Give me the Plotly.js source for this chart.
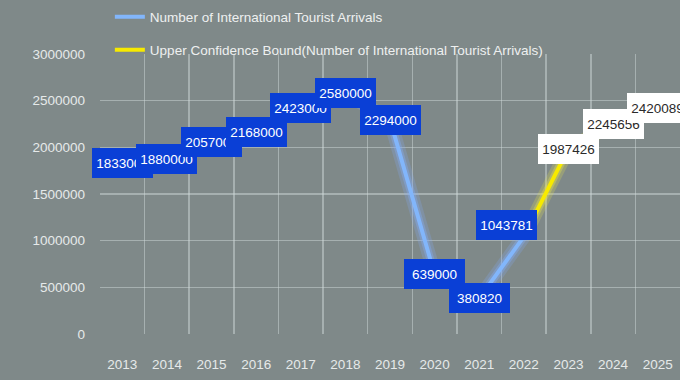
<!DOCTYPE html>
<html>
<head>
<meta charset="utf-8">
<script src="https://cdn.plot.ly/plotly-3.0.1.min.js"></script>
<style>html,body{margin:0;padding:0;background:#7f8989;}#chart{width:680px;height:380px;}</style>
</head>
<body>
<div id="chart"></div>
<script>
// ---- data ----
const years = ['2013','2014','2015','2016','2017','2018','2019','2020','2021','2022','2023','2024','2025'];
const actualYears = ['2013','2014','2015','2016','2017','2018','2019','2020','2021','2022'];
const actualValues = [1833000, 1880000, 2057000, 2168000, 2423000, 2580000, 2294000, 639000, 380820, 1043781];
const forecastYears = ['2022','2023','2024','2025'];
const forecastValues = [1043781, 1987426, 2245656, 2420089];
const actualName = 'Number of International Tourist Arrivals';
const forecastName = 'Upper Confidence Bound(Number of International Tourist Arrivals)';

const FONT = '"Liberation Sans", Arial, sans-serif';
const FS = 13.5;
const BG = '#7f8989';
const BLUE = '#82b6fb';
const YELLOW = '#f7ea00';
const GRID = 'rgba(205,215,215,0.5)';

const traces = [
  {x: actualYears, y: actualValues, type: 'scatter', mode: 'lines', showlegend: false, hoverinfo: 'skip',
   line: {color: 'rgba(130,175,255,0.22)', width: 14}},
  {x: actualYears, y: actualValues, type: 'scatter', mode: 'lines', showlegend: false, hoverinfo: 'skip',
   line: {color: 'rgba(130,175,255,0.35)', width: 8}},
  {x: forecastYears, y: forecastValues, type: 'scatter', mode: 'lines', showlegend: false, hoverinfo: 'skip',
   line: {color: 'rgba(235,230,70,0.22)', width: 14}},
  {x: forecastYears, y: forecastValues, type: 'scatter', mode: 'lines', showlegend: false, hoverinfo: 'skip',
   line: {color: 'rgba(235,230,70,0.35)', width: 8}},
  {x: actualYears, y: actualValues, type: 'scatter', mode: 'lines', name: actualName, legend: 'legend',
   line: {color: BLUE, width: 4}},
  {x: forecastYears, y: forecastValues, type: 'scatter', mode: 'lines', name: forecastName, legend: 'legend2',
   line: {color: YELLOW, width: 4}}
];

const annotations = [];
actualYears.forEach((yr, i) => {
  const last = (i === actualYears.length - 1);
  annotations.push({
    x: years.indexOf(yr), y: actualValues[i], xref: 'x', yref: 'y', text: String(actualValues[i]), showarrow: false,
    bgcolor: '#0a3fd6', borderpad: 4, borderwidth: 0, width: 53, height: 22, align: 'center', valign: 'middle',
    font: {family: FONT, size: FS, color: '#ffffff'},
    xshift: last ? -17 : 0, yshift: last ? 12 : 0
  });
});
forecastYears.forEach((yr, i) => {
  if (i === 0) return;
  annotations.push({
    x: years.indexOf(yr), y: forecastValues[i], xref: 'x', yref: 'y', text: String(forecastValues[i]), showarrow: false,
    bgcolor: '#ffffff', borderpad: 4, borderwidth: 0, width: 53, height: 22, align: 'center', valign: 'middle',
    font: {family: FONT, size: FS, color: '#2a2a2a'}
  });
});

const layout = {
  width: 680, height: 380,
  margin: {l: 100, r: 0, t: 54, b: 46},
  paper_bgcolor: BG, plot_bgcolor: BG,
  font: {family: FONT, size: FS, color: '#e6eaea'},
  xaxis: {type: 'category', categoryorder: 'array', categoryarray: years, tickvals: years,
          range: [-0.5, 12.5], tickson: 'boundaries', showgrid: true, tickangle: 0,
          gridcolor: GRID, gridwidth: 1.5, ticks: '', showline: false, zeroline: false,
          ticklabelstandoff: 20, tickfont: {family: FONT, size: FS, color: '#e6eaea'}, fixedrange: true},
  yaxis: {range: [0, 3000000], dtick: 500000, tick0: 0, tickformat: 'd', showgrid: true,
          gridcolor: GRID, gridwidth: 1.5, zeroline: false, showline: false, ticks: '',
          ticklabelstandoff: 14, tickfont: {family: FONT, size: FS, color: '#e6eaea'}, fixedrange: true},
  legend: {x: 0.017, y: 1.132, xanchor: 'left', yanchor: 'middle', bgcolor: 'rgba(0,0,0,0)',
           font: {family: FONT, size: FS, color: '#eef0f0'}},
  legend2: {x: 0.017, y: 1.014, xanchor: 'left', yanchor: 'middle', bgcolor: 'rgba(0,0,0,0)',
           font: {family: FONT, size: FS, color: '#eef0f0'}},
  annotations: annotations
};

Plotly.newPlot('chart', traces, layout, {displayModeBar: false, staticPlot: true});
</script>
</body>
</html>
